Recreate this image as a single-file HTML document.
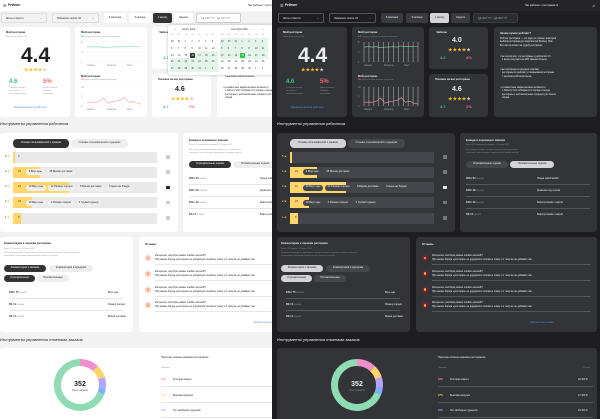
<!DOCTYPE html>
<html><head><meta charset="utf-8">
<style>
*{box-sizing:border-box;margin:0;padding:0}
body{width:600px;height:419px;overflow:hidden;background:#1c1c1e;font-family:"Liberation Sans","Noto Sans CJK SC",sans-serif;position:relative}
.pane{position:absolute;top:0;height:419px;overflow:hidden}
.dash{position:absolute;top:0;width:322px;height:419px}
.a{position:absolute;white-space:nowrap;line-height:1}
.card{position:absolute;border-radius:3px}
.pill{position:absolute;border-radius:4px;font-size:2.6px;line-height:1;display:flex;align-items:center;justify-content:center;white-space:nowrap}
.L{--bg:#f2f2f2;--card:#fff;--tx:#222;--mut:#999;--pill:#eee;--act:#333;--actx:#fff;--bar:#e9e9e9;--line:#e6e6e6;--hdr:#fff;--btn:#fff}
.D{--bg:#1e1e20;--card:#333438;--tx:#eee;--mut:#888;--pill:#45464b;--act:#d4d4d8;--actx:#222;--bar:#45464b;--line:#55565b;--hdr:#252527;--btn:#3a3b40}
</style></head><body>
<div class="pane L" id="paneL" style="left:0;width:272px;background:#f2f2f2"></div>
<div class="pane D" id="paneD" style="left:272px;width:328px;background:#1e1e20"></div>
<script>
const chart1Vals=[4.1,4.2,4.1,4.2,3.9,4.1,4.1,4.2,4.1,4.4,4.2,4.2,4.3,4.3];
const chart1Ticks=["5","3","1"];
const chart2Vals=[2,2,2,2.5,4.2,1.5,2.2,2.5,3,4.4,2,2.5,1.5,1];
const chart2Ticks=["10","5","0"];
const chartXLabels=["Январь","Февраль","Март"];
const ratingStars=["5","4","3","2","1"];
const ratingCounts=["3","24","41","23","9"];
const ratingFillPct=[1.5,19,39,13,5.5];
const ratingChips=[[],["3 Вкус еды","35 Время доставки"],["16 Вкус еды","12 Размер порции","8 Время доставки","3 Цена на блюда"],["16 Вкус еды","4 Размер порции","3 Грубый курьер"],[]];
const dishRows=[["45%","54","Пицца хабиб кебаб"],["10%","18","Креветки под соусом"],["10%","12","Бифстроганов с картой"],["5%","6","Бифстроганов с картой"]];
const commentRows=[["64%","75","Вкус еды"],["8%","9","Размер порции"],["3%","3","Время доставки"]];
const donutVals=[12,8,7,4,69];
const donutColors=["#ee8fce","#ffd46b","#b6a3ff","#7fb0ff","#8fdbb4"];
const reasonPct=["33%","27%","23%"];
const reasonText=["Ресторан закрыт","Высокая нагрузка","Нет свободных курьеров"];
const reasonSum=["28 103 ₽","27 103 ₽","20 103 ₽"];

function lineChart(vals,ticks,color,x,y,w,h,maxV,dark,name){
  const sx=i=>x+6+i*(w-8)/(vals.length-1), sy=v=>y+h-(v/maxV)*h;
  let s=`<svg class="a" style="left:0;top:0" width="322" height="419">`;
  ticks.forEach((t,i)=>{const ty=y+i*h/(ticks.length-1);s+=`<text x="${x}" y="${ty+1}" font-size="2.4" fill="#999">${t}</text>`;s+=`<line x1="${x+5}" x2="${x+w}" y1="${ty}" y2="${ty}" stroke="${dark?'#4a4b50':'#eee'}" stroke-width="0.3"/>`;});
  if(dark){for(let i=0;i<12;i++){const gx=x+6+i*(w-8)/11;s+=`<line x1="${gx}" x2="${gx}" y1="${y}" y2="${y+h}" stroke="#aaa" stroke-width="0.6"/>`;}}
  s+=`<polyline fill="none" stroke="${color}" stroke-width="0.6" points="${vals.map((v,i)=>sx(i)+','+sy(v)).join(' ')}"/>`;
  chartXLabels.forEach((l,i)=>{s+=`<text x="${x+6+i*(w-22)/2}" y="${y+h+4}" font-size="2.4" fill="#999">${l}</text>`;});
  return s+`</svg>`;
}
function T(x,y,txt,fs,col,extra,name){return `<div class="a" style="left:${x}px;top:${y}px;font-size:${fs}px;color:${col||'var(--tx)'};${extra||''}">${txt}</div>`;}
function C(x,y,w,h,name){return `<div class="card" style="left:${x}px;top:${y}px;width:${w}px;height:${h}px;background:var(--card)"></div>`;}
function P(x,y,w,h,txt,act,name){return `<div class="pill" style="left:${x}px;top:${y}px;width:${w}px;height:${h}px;background:${act?'var(--act)':'var(--pill)'};color:${act?'var(--actx)':'var(--tx)'}">${txt}</div>`;}
function stars(cx,y,n){let s='';for(let i=0;i<5;i++)s+=`<div class="a" style="left:${cx-11+i*4.6}px;top:${y}px;font-size:4.5px;color:${i<n?'#fbbd1e':'#ccc'}">★</div>`;return s;}

function dash(dark){
  let h='';
  h+=`<div class="a" style="left:-4px;top:0;width:330px;height:11px;background:var(--hdr)"></div>`;
  h+=T(3,3.5,'☰',4,'var(--tx)','','menu-icon')+T(8,4,'Рейтинг',3.2,'var(--tx)','font-weight:bold','page-title');
  h+=T(248,4.5,'Нас работает с ресторанов ⚙',2.4,'var(--tx)','','header-restaurants-link')+T(315,3.5,'♫',4,'var(--tx)','','notification-icon');
  const sel=(x,w,t,n)=>`<div class="a" style="left:${x}px;top:13px;width:${w}px;height:10px;border:0.4px solid ${dark?'#555':'#ddd'};border-radius:2px;font-size:2.5px;padding:3.5px 0 0 4px;color:var(--tx)">${t}<span style="position:absolute;right:4px">⌄</span></div>`;
  h+=sel(1,46,'Шоты и Ароста','restaurant-select')+sel(52,47,'Новинское шоссе 34','address-select');
  [['6 месяцев',104,22],['3 месяца',129,22],['1 месяц',153,19],['Неделя',174,19]].forEach((b,i)=>{
    h+=`<div class="pill" style="left:${b[1]}px;top:13px;width:${b[2]}px;height:10px;border-radius:2px;background:${i==2?'var(--act)':'var(--btn)'};color:${i==2?'var(--actx)':'var(--tx)'}">${b[0]}</div>`;});
  h+=`<div class="a" style="left:196px;top:13px;width:45px;height:10px;border:0.6px solid ${dark?'#3a3b40':'#ccc'};background:${dark?'#2c2d31':'#fff'};border-radius:2px;font-size:2.4px;padding:3.5px 0 0 4px;color:#999">ДД.ММ.ГГГГ - ДД.ММ.ГГГГ</div>`;
  h+=C(0,27,70,90,'rating-summary-card');
  h+=T(6,31,'Мой ресторан',2.8,'','font-weight:bold')+T(6,35.5,'Новинское шоссе 34',2.2,'var(--mut)');
  h+=T(21,45,'4.4',21,'var(--tx)','font-weight:bold','rating-value')+stars(35,68,4);
  h+=T(9,79,'4.6',6,'#3cc47c','font-weight:bold')+T(43,79,'5%',6,'#f36b6b','font-weight:bold');
  h+=T(9,87,'Средняя оценка<br>ресторана<br>пользователями',2.2,'var(--mut)','line-height:1.3')+T(43,87,'Доля отзывов<br>низкими<br>оценками',2.2,'var(--mut)','line-height:1.3');
  h+=T(14,107,'Формула расчёта рейтинга',2.6,'#4f8cf0','','rating-formula-link');
  h+=C(75,27,72,90,'rating-charts-card');
  h+=T(81,31,'Мой ресторан',2.8,'','font-weight:bold')+T(81,35.5,'<b style="color:#3cc47c">4.6</b> Средняя оценка ресторана пользова...',2.1,'var(--mut)');
  h+=lineChart(chart1Vals,chart1Ticks,'#7fd6ae',81,42,62,20,5.5,dark,'avg-rating-line-chart');
  h+=T(81,74.5,'Мой ресторан',2.8,'','font-weight:bold')+T(81,79,'<b style="color:#f36b6b">5%</b> Доля отзывов низкими оценками',2.1,'var(--mut)');
  h+=lineChart(chart2Vals,chart2Ticks,'#f5a0a0',81,87,62,19,10,dark,'low-rating-share-line-chart');
  h+=C(152,27,59,42,'chain-rating-card');
  h+=T(159,32,'Чайхона',2.6,'','font-weight:bold')+T(175,37,'4.0',7,'var(--tx)','font-weight:bold')+stars(182,48,4);
  h+=T(163,56,'4.2',4,'#3cc47c','font-weight:bold')+T(189,56,'4%',4,'#f36b6b','font-weight:bold');
  h+=C(152,74,59,43,'similar-restaurants-card');
  h+=T(158,79,'Похожие на вас рестораны',2.6,'','font-weight:bold')+T(175,86,'4.6',7,'var(--tx)','font-weight:bold')+stars(182,97,4);
  h+=T(163,105,'4.7',4,'#3cc47c','font-weight:bold')+T(189,105,'2%',4,'#f36b6b','font-weight:bold');
  h+=C(217,27,103,90,'why-rating-card');
  h+=T(223,32,'Зачем нужен рейтинг?',2.8,'','font-weight:bold');
  h+=T(223,38,'Рейтинг ресторана — это один из главных факторов<br>выбора ресторана для покупателей Delivery Club.<br>Вот как он влияет на судьбу ресторана:',2.3,'var(--tx)','line-height:1.45');
  h+=T(223,56,'•  мы посчитали, что рестораны с рейтингом 4.5<br>&nbsp;&nbsp;&nbsp;и выше получают на 20% заказов больше;',2.3,'var(--tx)','line-height:1.45');
  h+=T(223,69,'•  мы сортируем по вкусным спискам<br>&nbsp;&nbsp;&nbsp;рестораны по рейтингу и показываем рестораны<br>&nbsp;&nbsp;&nbsp;с высоким рейтингом выше;',2.3,'var(--tx)','line-height:1.45');
  h+=T(223,87,'•  в совместные маркетинговые активности<br>&nbsp;&nbsp;&nbsp;с Delivery Club отбираются в первую очередь<br>&nbsp;&nbsp;&nbsp;рестораны с рейтингом выше среднего для своего<br>&nbsp;&nbsp;&nbsp;города.',2.3,'var(--tx)','line-height:1.45');
  if(!dark){
    h+=`<div class="card" style="left:168px;top:25px;width:112px;height:50px;background:#fff;box-shadow:0 0 3px rgba(0,0,0,.25)"></div>`;
    const wd=['Пн','Вт','Ср','Чт','Пт','Сб','Вс'];
    h+=T(175,28,'‹',3,'#333')+T(182,28.5,'Август 2022 ⌄',2.4,'#333')+T(231,28.5,'Сентябрь 2022 ⌄',2.4,'#333')+T(263,28,'›',3,'#333');
    for(let m=0;m<2;m++){
      const bx=m?221:171;
      h+=`<div class="a" style="left:${m?220:190}px;top:${m?38:51}px;width:${m?48:28}px;height:${m?21:7}px;background:#e3f5ea"></div>`;
      if(!m)h+=`<div class="a" style="left:170px;top:58px;width:48px;height:14px;background:#e3f5ea"></div>`;
      wd.forEach((d,i)=>h+=T(bx+i*6.8,34,d,2.2,'#999'));
      const days=m?[29,30,31,1,2,3,4,5,6,7,8,9,10,11,12,13,14,15,16,17,18,19,20,21,22,23,24,25,26,27,28,29,30,1,2]:[30,31,1,2,3,4,5,6,7,8,9,10,11,12,13,14,15,16,17,18,19,20,21,22,23,24,25,26,27,28,29,30,31,1,2];
      days.forEach((d,i)=>{const cx=bx+(i%7)*6.8,cy=41+Math.floor(i/7)*6.8;
        const sel=(!m&&i==17)||(m&&i==17);
        if(sel)h+=`<div class="a" style="left:${cx-1.2}px;top:${cy-1.8}px;width:5.2px;height:5.2px;border-radius:1px;background:${m?'#2bc14b':'#333'}"></div>`;
        h+=T(cx,cy,d,2.3,sel?'#fff':'#333','','calendar-day');});
    }
  }
  h+=T(0,122,'Инструменты управления рейтингом',4,'var(--tx)','','rating-tools-title');
  h+=C(0,133,178,99,'rating-distribution-card');
  h+=P(13,139,56,9,'Отзывы пользователей о заказах',true,'orders-reviews-tab')+P(71,139,57,9,'Отзывы пользователей о курьерах',false,'courier-reviews-tab');
  const barX=13,barW=144,scale=v=>v/100*barW;
  ratingStars.forEach((s,i)=>{
    const y=151.5+i*15.3;
    h+=T(5,y+4,s+' <span style="color:#fbbd1e">★</span>',2.6,'var(--tx)','','rating-row-label');
    h+=`<div class="a" style="left:${barX}px;top:${y}px;width:${barW}px;height:11px;background:var(--bar)"></div>`;
    h+=`<div class="a" style="left:${barX}px;top:${y}px;width:${Math.max(scale(ratingFillPct[i]),2)}px;height:11px;background:#ffd66b"></div>`;
    h+=T(barX+5,y+4,ratingCounts[i],2.6,'#333','','rating-count');
    let cx=barX+13;
    ratingChips[i].forEach(c=>{const w=c.length*1.45+4;h+=P(cx,y+2.5,w,6,c,false,'reason-chip');cx+=w+2;});
    h+=`<div class="a" style="left:166px;top:${y+3.5}px;width:4px;height:3.5px;border-radius:0.5px;background:${i==2?'var(--tx)':(dark?'#777':'#ccc')}"></div>`;
  });
  h+=C(183,133,137,99,'dishes-card');
  h+=T(189,138.5,'Блюда в корзинных заказах',2.8,'','font-weight:bold')+T(189,144,'Всего 135 корзинных заказов с 20 июля 2022',2.1,'var(--mut)');
  h+=T(189,149,'Мы собрали блюда, которые чаще всего встречаются<br>в заказах, после которых покупатели оставили оценки',2.1,'var(--mut)','line-height:1.4');
  h+=P(189,161,42,7,'Отрицательные оценки',!dark,'negative-dishes-tab')+P(233,161,44,7,'Положительные оценки',dark,'positive-dishes-tab');
  dishRows.forEach((r,i)=>{const y=178+i*12;
    h+=T(189,y,`<b>${r[0]} / ${r[1]}</b> <span style="color:var(--mut)">оценок</span>`,2.4)+T(260,y,r[2],2.4,'var(--tx)','','dish-name');
    if(i<3)h+=`<div class="a" style="left:189px;top:${y+6}px;width:124px;height:0.6px;background:var(--line)"></div>`;});
  h+=C(0,237,133,95,'comments-card');
  h+=T(4,243,'Комментарии к оценкам ресторана',2.7,'','font-weight:bold')+T(4,248,'Всего 120 оценок с 20 июня 2022',2,'var(--mut)');
  h+=T(4,252,'Обратите внимание на проблемы, о ваших сильных сторонах, которые отмечают<br>покупатели, оставившие оценки работе вашего ресторана',2,'var(--mut)','line-height:1.4');
  h+=P(4,265,42,7,'Комментарии к заказам',true,'order-comments-tab')+P(49,265,44,7,'Комментарии к курьерам',false,'courier-comments-tab');
  h+=P(4,275,31,7,'Отрицательные',true,'negative-comments-tab')+P(37,275,32,7,'Положительные',false,'positive-comments-tab');
  commentRows.forEach((r,i)=>{const y=292+i*12;
    h+=T(9,y,`<b>${r[0]} / ${r[1]}</b> <span style="color:var(--mut)">оценок</span>`,2.4)+T(108,y,r[2],2.4,'var(--tx)','','comment-topic');
    if(i<2)h+=`<div class="a" style="left:9px;top:${y+5.5}px;width:114px;height:0.6px;background:var(--line)"></div>`;});
  h+=C(139,237,181,95,'reviews-card');
  h+=T(145,243,'Отзывы',2.8,'','font-weight:bold');
  for(let i=0;i<4;i++){const y=255+i*15.8;
    h+=`<div class="a" style="left:145px;top:${y}px;width:6px;height:6px;border-radius:50%;background:${dark?'#7a1f35':'#fbc8d4'}"><div style="position:absolute;left:1.7px;top:1.7px;width:2.6px;height:2.6px;border-radius:50%;background:#f6b73c"></div></div>`;
    h+=T(155,y,'Интересно, как борщ можно клебать вилкой?!',2.4)+T(155,y+4,'При заказе борща «ресторан» не додумался положить ложку и к тому же не добавил сме <span style="color:#4f8cf0">...</span>',2.4);
    h+=`<div class="a" style="left:155px;top:${y+9}px;width:159px;height:0.6px;background:var(--line)"></div>`;}
  h+=T(253,322,'Смотреть все отзывы',2.4,'#4f8cf0','','all-reviews-link');
  h+=T(0,338,'Инструменты управления отменами заказов',4,'var(--tx)','','cancellation-tools-title');
  h+=C(0,348,320,75,'cancellations-card');
  const cx=80,cy=385,R=22.5,tot=donutVals.reduce((a,b)=>a+b,0);
  let svg=`<svg class="a" style="left:0;top:0" width="322" height="419">`,acc=0;
  donutVals.forEach((v,i)=>{const a0=acc/tot*2*Math.PI-Math.PI/2;acc+=v;const a1=acc/tot*2*Math.PI-Math.PI/2;
    const lg=(a1-a0)>Math.PI?1:0;
    svg+=`<path d="M${cx+R*Math.cos(a0)},${cy+R*Math.sin(a0)} A${R},${R} 0 ${lg} 1 ${cx+R*Math.cos(a1)},${cy+R*Math.sin(a1)}" fill="none" stroke="${donutColors[i]}" stroke-width="7"/>`;});
  svg+=`<text x="${cx}" y="${cy+1}" text-anchor="middle" font-size="7" font-weight="bold" fill="${dark?'#eee':'#222'}">352</text><text x="${cx}" y="${cy+6}" text-anchor="middle" font-size="2.4" fill="${dark?'#888':'#555'}">Всего заказов</text></svg>`;
  h+=svg;
  h+=T(161,357,'Причины отмены заказов рестораном',2.7,'','','reasons-title')+T(161,367,'Причина',2.2,'var(--mut)')+T(306,367,'Убыток',2.2,'var(--mut)');
  reasonPct.forEach((p,i)=>{const y=379+i*15.7;
    h+=T(161,y,p,2.4,donutColors[i],'font-weight:bold')+T(173,y,reasonText[i],2.4)+T(301,y,reasonSum[i],2.4,'var(--tx)','','reason-amount');
    h+=`<div class="a" style="left:161px;top:${y+7}px;width:155px;height:0.6px;background:var(--line)"></div>`;});
  return h;
}
document.getElementById('paneL').innerHTML=`<div class="dash" style="left:0">${dash(false)}</div>`;
document.getElementById('paneD').innerHTML=`<div class="dash" style="left:5px">${dash(true)}</div>`;
</script>
</body></html>
